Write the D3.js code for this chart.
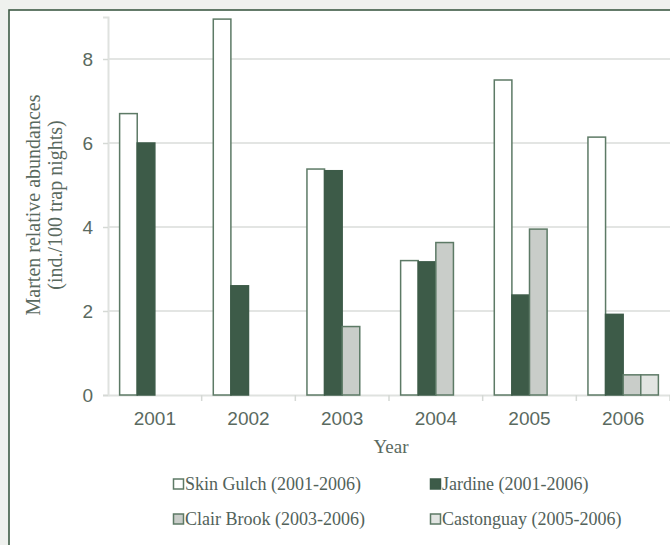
<!DOCTYPE html>
<html>
<head>
<meta charset="utf-8">
<script src="https://cdn.jsdelivr.net/npm/d3@7"></script>
<style>
  html, body { margin: 0; padding: 0; background: #eff1ee; }
  svg { display: block; }
</style>
</head>
<body>
<svg id="chart" width="670" height="545"></svg>
<script>
// Marten relative abundances per site and year
const years = ["2001", "2002", "2003", "2004", "2005", "2006"];
const sites = ["Skin Gulch", "Jardine", "Clair Brook", "Castonguay"];
const siteLabels = [
  "Skin Gulch (2001-2006)",
  "Jardine (2001-2006)",
  "Clair Brook (2003-2006)",
  "Castonguay (2005-2006)"
];
const skinGulch  = [6.7, 8.95, 5.38, 3.2, 7.5, 6.14];
const jardine    = [6.0, 2.6, 5.34, 3.17, 2.38, 1.92];
const clairBrook = [null, null, 1.63, 3.63, 3.95, 0.48];
const castonguay = [null, null, null, null, null, 0.48];
const yTicks = [0, 2, 4, 6, 8];

const seriesValues = [skinGulch, jardine, clairBrook, castonguay];
const fills = ["#ffffff", "#3d5b48", "#c9cdc9", "#e2e5e2"];
const stroke = "#5d7a66";
const textColor = "#5a6a5f";
const sans = "'Liberation Sans', Arial, sans-serif";
const serif = "'Liberation Serif', 'Times New Roman', serif";

const svg = d3.select("#chart");

// white panel with a dark green frame
svg.append("rect").attr("x", 9).attr("y", 10).attr("width", 670).attr("height", 545)
  .attr("fill", "#ffffff").attr("stroke", "#3e5a45").attr("stroke-width", 1.6);

const x0 = d3.scaleBand().domain(years).range([108, 670]).paddingInner(0).paddingOuter(0);
const x1 = d3.scaleBand().domain(sites).range([0, x0.bandwidth()]).paddingInner(0).paddingOuter(0.66);
const y = d3.scaleLinear().domain([0, 9]).range([395, 17]);

// gridlines
svg.append("g").selectAll("line").data(yTicks.filter(d => d > 0)).join("line")
  .attr("x1", 108).attr("x2", 670)
  .attr("y1", d => y(d)).attr("y2", d => y(d))
  .attr("stroke", "#e3e5e3").attr("stroke-width", 2);

// y axis
const yAxis = svg.append("g").attr("transform", "translate(108,0)")
  .call(d3.axisLeft(y).tickValues(yTicks).tickSize(5).tickPadding(10));
yAxis.select(".domain").attr("stroke", "#dfe2df").attr("stroke-width", 2);
yAxis.selectAll(".tick line").attr("stroke", "#d5d9d5").attr("stroke-width", 1.5);
yAxis.selectAll(".tick text").attr("fill", textColor)
  .style("font-family", sans).style("font-size", "19px");

// x axis
const xAxis = svg.append("g").attr("transform", "translate(0,395)")
  .call(d3.axisBottom(x0).tickSize(0).tickPadding(17));
xAxis.select(".domain").attr("stroke", "#dfe2df").attr("stroke-width", 2);
xAxis.selectAll(".tick text").attr("fill", textColor)
  .style("font-family", sans).style("font-size", "19px");
// boundary ticks between years
svg.append("g").selectAll("line").data(years.slice(1).concat(["end"])).join("line")
  .attr("x1", d => d === "end" ? 670 : x0(d)).attr("x2", d => d === "end" ? 670 : x0(d))
  .attr("y1", 395).attr("y2", 401)
  .attr("stroke", "#d5d9d5").attr("stroke-width", 1.5);

// bars
const barData = [];
years.forEach((yr, i) => {
  sites.forEach((s, j) => {
    const v = seriesValues[j][i];
    if (v != null) barData.push({ year: yr, site: s, value: v, k: j });
  });
});
svg.append("g").selectAll("rect").data(barData).join("rect")
  .attr("x", d => x0(d.year) + x1(d.site))
  .attr("y", d => y(d.value))
  .attr("width", x1.bandwidth())
  .attr("height", d => y(0) - y(d.value))
  .attr("fill", d => fills[d.k])
  .attr("stroke", d => d.k === 1 ? "#3d5b48" : stroke)
  .attr("stroke-width", 1.5);

// axis titles
svg.append("text").attr("x", 391).attr("y", 453).attr("text-anchor", "middle")
  .attr("fill", textColor).style("font-family", serif).style("font-size", "19px").text("Year");

const yTitle = svg.append("text").attr("transform", "translate(40,205) rotate(-90)")
  .attr("text-anchor", "middle").attr("fill", textColor)
  .style("font-family", serif).style("font-size", "20px");
yTitle.append("tspan").attr("x", 0).attr("y", 0).text("Marten relative abundances");
yTitle.append("tspan").attr("x", 0).attr("y", 22).text("(ind./100 trap nights)");

// legend
const legendPos = [[173, 484], [430, 484], [173, 519], [430, 519]];
const legend = svg.append("g").selectAll("g").data(siteLabels).join("g")
  .attr("transform", (d, i) => `translate(${legendPos[i][0]},${legendPos[i][1]})`);
legend.append("rect").attr("x", 0.5).attr("y", -5).attr("width", 10).attr("height", 10)
  .attr("fill", (d, i) => fills[i])
  .attr("stroke", (d, i) => i === 1 ? "#3d5b48" : stroke).attr("stroke-width", 1.5);
legend.append("text").attr("x", 12).attr("y", 6)
  .attr("fill", "#52625a").style("font-family", serif).style("font-size", "18px")
  .text(d => d);
</script>
</body>
</html>
